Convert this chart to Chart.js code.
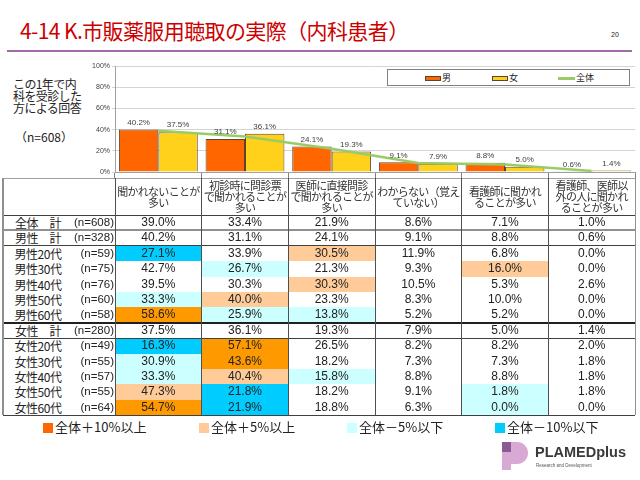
<!DOCTYPE html>
<html lang="ja">
<head>
<meta charset="utf-8">
<script src="https://cdn.jsdelivr.net/npm/chart.js@4.4.1/dist/chart.umd.min.js"></script>
<style>
  body { margin: 0; width: 640px; height: 480px; position: relative; overflow: hidden; background: #fff;
         font-family: "Noto Sans CJK JP", "Noto Sans", sans-serif; color: #222; }
  .abs { position: absolute; }
  #title { left: 20px; top: 17px; font-size: 21px; line-height: 26px; color: #cc0000; white-space: nowrap; letter-spacing: -0.6px; }
  #pageNo { left: 611px; top: 31px; font-size: 7px; font-family: "Liberation Sans", sans-serif; }
  #rule { left: 7px; top: 50px; width: 625px; height: 2px; background: #9e6ba5; }
  #note { left: 13px; top: 78px; font-size: 12px; line-height: 12px; white-space: pre; letter-spacing: -0.6px; }
  #noteN { left: 15px; top: 128px; font-size: 12px; white-space: nowrap; }
  #chartBox { left: 0; top: 58px; }
  #legend { left: 387px; top: 69px; width: 241px; height: 15px; border: 1px solid #808080; background: #fff;
            font-size: 9px; line-height: 15px; }
  .lg { position: absolute; top: 0; white-space: nowrap; }
  .sw { display: inline-block; width: 16px; height: 5px; border: 1px solid #5a4630; vertical-align: middle; margin-right: 1px; box-sizing: border-box; }
  .swl { display: inline-block; width: 17px; height: 3px; vertical-align: middle; margin-right: 1px; }
  .cell { position: absolute; text-align: center; white-space: pre; overflow: hidden; }
  .hline, .vline { position: absolute; }
  .key { position: absolute; top: 419px; font-size: 13px; line-height: 16px; white-space: nowrap; }
  .key span { display: inline-block; width: 10px; height: 10px; margin-right: 2px; vertical-align: -1px; }
</style>
</head>
<body>
<div id="title" class="abs">4-14 K.市販薬服用聴取の実際（内科患者）</div>
<div id="pageNo" class="abs">20</div>
<div id="rule" class="abs"></div>
<div id="note" class="abs">この1年で内
科を受診した
方による回答</div>
<div id="noteN" class="abs">（n=608）</div>
<div id="chartBox" class="abs"><canvas id="chart" width="640" height="121"></canvas></div>
<div id="legend" class="abs"></div>
<div id="table"></div>
<div id="keys"></div>

<div class="abs" style="left:502px;top:442px;width:9px;height:10px;background:#8b5a96"></div>
<div class="abs" style="left:502px;top:452px;width:9px;height:18px;background:#d8a9d2"></div>
<div class="abs" style="left:511px;top:442px;width:17px;height:22px;background:#d8a9d2;border-radius:0 11px 11px 0"></div>
<div class="abs" style="left:535px;top:444px;font:bold 14.5px 'Liberation Sans',sans-serif;color:#3a3a3a">PLAMEDplus</div>
<div class="abs" style="left:536px;top:463px;font:4.5px 'Liberation Sans',sans-serif;color:#555;white-space:nowrap">Research and Development</div>

<script>
// categories (chart x axis = table columns)
const categories = [
  '聞かれないことが\n多い',
  '初診時に問診票\nで聞かれることが\n多い',
  '医師に直接問診\nで聞かれることが\n多い',
  'わからない（覚え\nていない）',
  '看護師に聞かれ\nることが多い',
  '看護師、医師以\n外の人に聞かれ\nることが多い'
];
const seriesNames = ['男', '女', '全体'];
const maleValues = [40.2, 31.1, 24.1, 9.1, 8.8, 0.6];
const femaleValues = [37.5, 36.1, 19.3, 7.9, 5.0, 1.4];
const totalValues = [39.0, 33.4, 21.9, 8.6, 7.1, 1.0];
const yTicks = [0, 20, 40, 60, 80, 100];

// table rows
const rowNames = ['全体　計', '男性　計', '男性20代', '男性30代', '男性40代', '男性50代', '男性60代',
                  '女性　計', '女性20代', '女性30代', '女性40代', '女性50代', '女性60代'];
const rowN = [608, 328, 59, 75, 76, 60, 58, 280, 49, 55, 57, 55, 64];
const rowValues = [
  [39.0, 33.4, 21.9, 8.6, 7.1, 1.0],
  [40.2, 31.1, 24.1, 9.1, 8.8, 0.6],
  [27.1, 33.9, 30.5, 11.9, 6.8, 0.0],
  [42.7, 26.7, 21.3, 9.3, 16.0, 0.0],
  [39.5, 30.3, 30.3, 10.5, 5.3, 2.6],
  [33.3, 40.0, 23.3, 8.3, 10.0, 0.0],
  [58.6, 25.9, 13.8, 5.2, 5.2, 0.0],
  [37.5, 36.1, 19.3, 7.9, 5.0, 1.4],
  [16.3, 57.1, 26.5, 8.2, 8.2, 2.0],
  [30.9, 43.6, 18.2, 7.3, 7.3, 1.8],
  [33.3, 40.4, 15.8, 8.8, 8.8, 1.8],
  [47.3, 21.8, 18.2, 9.1, 1.8, 1.8],
  [54.7, 21.9, 18.8, 6.3, 0.0, 0.0]
];
const totalRows = [0, 1, 7];
const keyLabels = ['全体＋10%以上', '全体＋5%以上', '全体－5%以下', '全体－10%以下'];

const colors = { male: '#ff6600', female: '#ffd11a', total: '#99cc66', edge: '#5a4630' };
const keyColors = ['#ff6600', '#ffcc99', '#ccffff', '#00ccff'];
const cellColors = ['#ff9900', '#ffcc99', '#ccffff', '#00ccff'];

function cellColor(r, c) {
  if (totalRows.includes(r)) return null;
  const d = rowValues[r][c] - rowValues[0][c];
  if (d >= 10) return cellColors[0];
  if (d >= 5) return cellColors[1];
  if (d <= -10) return cellColors[3];
  if (d <= -5) return cellColors[2];
  return null;
}

// labels above bars
const barLabels = {
  id: 'barLabels',
  afterDatasetsDraw(chart) {
    const ctx = chart.ctx;
    ctx.save();
    ctx.font = '8px "Liberation Sans", sans-serif';
    ctx.fillStyle = '#404040';
    ctx.textAlign = 'center';
    ctx.textBaseline = 'middle';
    chart.data.datasets.forEach((ds, i) => {
      if (ds.type === 'line') return;
      chart.getDatasetMeta(i).data.forEach((bar, j) => {
        ctx.fillText(ds.data[j].toFixed(1) + '%', bar.x, bar.y - 7);
      });
    });
    ctx.restore();
  }
};

new Chart(document.getElementById('chart'), {
  type: 'bar',
  data: {
    labels: categories,
    datasets: [
      { type: 'line', label: seriesNames[2], data: totalValues, borderColor: colors.total, borderWidth: 2.5,
        pointRadius: 0, fill: false, order: 0 },
      { label: seriesNames[0], data: maleValues, backgroundColor: colors.male, borderColor: colors.edge,
        borderWidth: 1, order: 1 },
      { label: seriesNames[1], data: femaleValues, backgroundColor: colors.female, borderColor: colors.edge,
        borderWidth: 1, order: 2 }
    ]
  },
  options: {
    responsive: false,
    animation: false,
    devicePixelRatio: 1,
    layout: { padding: { left: 0, right: 5, top: 8, bottom: 0 } },
    datasets: { bar: { categoryPercentage: 0.91, barPercentage: 1.0 } },
    plugins: { legend: { display: false }, tooltip: { enabled: false } },
    scales: {
      x: {
        ticks: { display: false },
        grid: { drawOnChartArea: false, drawTicks: true, tickLength: 7, color: '#808080', offset: true },
        border: { color: '#a0a0a0' },
        afterFit: (s) => { s.height = 7; }
      },
      y: {
        min: 0, max: 100,
        afterBuildTicks: (s) => { s.ticks = yTicks.map(v => ({ value: v })); },
        ticks: { callback: (v) => v + '%', font: { size: 7, family: 'Liberation Sans' }, color: '#404040', padding: 2 },
        grid: { color: '#d4d4d4', tickLength: 3 },
        border: { color: '#a0a0a0' },
        afterFit: (s) => { s.width = 115; }
      }
    }
  },
  plugins: [barLabels]
});

// chart legend
const legend = document.getElementById('legend');
const legendX = [37, 104, 170];
seriesNames.forEach((name, i) => {
  const d = document.createElement('div');
  d.className = 'lg';
  d.style.left = legendX[i] + 'px';
  const sw = i < 2
    ? '<span class="sw" style="background:' + (i === 0 ? colors.male : colors.female) + '"></span>'
    : '<span class="swl" style="background:' + colors.total + '"></span>';
  d.innerHTML = sw + name;
  legend.appendChild(d);
});

// table
const table = document.getElementById('table');
const colEdges = [115, 201.7, 288.3, 375, 461.7, 548.3, 635];
const headTop = 178, headBottom = 215, rowH = 15.4;
function addDiv(cls, l, t, w, h, style, text) {
  const d = document.createElement('div');
  d.className = cls;
  d.style.cssText = 'left:' + l + 'px;top:' + t + 'px;width:' + w + 'px;height:' + h + 'px;' + (style || '');
  if (text !== undefined) d.textContent = text;
  table.appendChild(d);
  return d;
}
categories.forEach((cat, c) => {
  const h = addDiv('cell', colEdges[c], headTop, colEdges[c + 1] - colEdges[c], headBottom - headTop,
    'font-size:11px;line-height:11px;display:flex;align-items:center;justify-content:center;color:#333;letter-spacing:-0.7px;');
  h.textContent = cat;
});
rowNames.forEach((name, r) => {
  const top = headBottom + r * rowH;
  addDiv('cell', 3, top, 70, rowH, 'font-size:12px;line-height:' + rowH + 'px;letter-spacing:-0.5px;', name);
  addDiv('cell', 73, top, 41, rowH, 'font-size:11.5px;line-height:' + rowH + 'px;text-align:right;font-family:"Liberation Sans",sans-serif;', '(n=' + rowN[r] + ')');
  rowValues[r].forEach((v, c) => {
    const bg = cellColor(r, c);
    addDiv('cell', colEdges[c], top, colEdges[c + 1] - colEdges[c], rowH,
      'font-size:12px;line-height:' + rowH + 'px;font-family:"Liberation Sans",sans-serif;' + (bg ? 'background:' + bg + ';' : ''),
      v.toFixed(1) + '%');
  });
});
// grid lines of the table
const hLines = [[headTop, '#a0a0a0', 1], [headBottom, '#404040', 1], [headBottom + rowH, '#909090', 2],
                [headBottom + 2 * rowH, '#404040', 1], [headBottom + 7 * rowH, '#202020', 1.5],
                [headBottom + 8 * rowH, '#404040', 1], [headBottom + 13 * rowH, '#404040', 1]];
hLines.forEach(([y, col, w]) => addDiv('hline', 3, y - w / 2, 632, w, 'background:' + col));
const tableBottom = headBottom + 13 * rowH;
addDiv('vline', 2, headTop, 2, tableBottom - headTop, 'background:#909090');
colEdges.forEach((x, i) => addDiv('vline', x - 0.5, headTop, 1, tableBottom - headTop,
  'background:' + (i === colEdges.length - 1 ? '#909090' : '#505050')));

// colour key
const keys = document.getElementById('keys');
const keyX = [43, 199, 347, 495];
keyLabels.forEach((k, i) => {
  const d = document.createElement('div');
  d.className = 'key';
  d.style.left = keyX[i] + 'px';
  d.innerHTML = '<span style="background:' + keyColors[i] + '"></span>' + k;
  keys.appendChild(d);
});
</script>
</body>
</html>
